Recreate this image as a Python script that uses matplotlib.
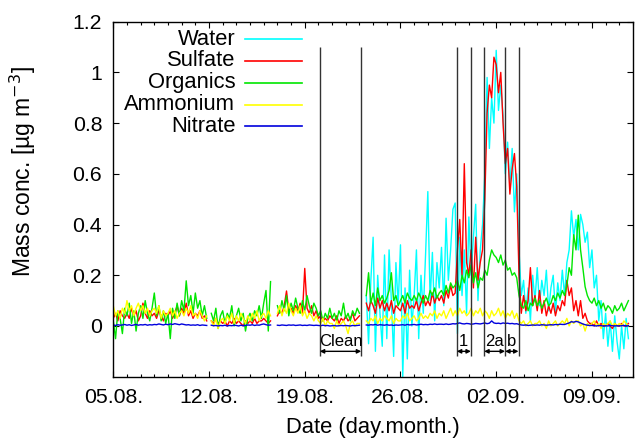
import numpy as np
import matplotlib
matplotlib.use("Agg")
import matplotlib.pyplot as plt

plt.rcParams['font.family'] = ['Liberation Sans', 'DejaVu Sans']

nan = np.nan

# 6 values per day, day 0 = 05.08. 00:00
per_day = 6

water = [nan] * 108 + [
    nan, nan, nan, 0.12, -0.07, 0.18,      # 23.08.
    0.35, -0.10, 0.20, 0.05, -0.08, 0.28,
    -0.05, 0.30, 0.10, -0.12, 0.25, 0.08,
    0.32, -0.20, 0.15, -0.13, 0.22, 0.00,
    0.12, 0.30, -0.05, 0.20, 0.05, 0.28,
    0.53, 0.10, 0.29, 0.02, 0.25, 0.15,
    0.31, 0.08, 0.425, 0.18, 0.30, 0.46,
    0.485, -0.03, 0.35, 0.12, 0.30, 0.05,   # 30.08.
    0.43, 0.20, 0.35, 0.48, 0.10, 0.30,
    0.40, 0.60, 0.98, 0.70, 0.90, 0.80,
    1.087, 0.85, 0.95, 0.83, 0.60, 0.725,    # 02.09.
    0.55, 0.70, 0.45, 0.60, 0.30, 0.12,
    0.18, 0.05, 0.15, 0.02, 0.20, 0.10,
    0.23, 0.08, 0.18, 0.12, 0.22, 0.06,
    0.15, 0.20, 0.05, 0.17, 0.10, 0.22,
    0.12, 0.25, 0.30, 0.454, 0.35, 0.42,
    0.30, 0.44, 0.40, 0.33, 0.37, 0.23,
    0.30, 0.15, 0.20, 0.02, 0.10, -0.05,    # 09.09.
    0.05, -0.08, 0.02, -0.10, 0.04, -0.06,
    -0.13, 0.00, -0.09, 0.03, -0.05, nan,
]

sulfate = [
    0.03, 0.05, 0.02, 0.06, 0.04, 0.03,     # 05.08.
    0.05, 0.03, 0.07, 0.04, 0.06, 0.02,
    0.04, 0.09, 0.05, 0.03, 0.06, 0.04,
    0.05, 0.03, 0.06, 0.04, 0.02, 0.05,
    0.04, 0.06, 0.03, 0.05, 0.08, 0.04,
    0.07, 0.05, 0.09, 0.04, 0.06, 0.03,
    0.05, 0.04, 0.06, 0.03, 0.04, 0.02,
    nan, 0.02, 0.01, 0.03, 0.01, 0.02,      # 12.08.
    0.01, 0.02, 0.00, 0.02, 0.01, 0.03,
    0.01, 0.02, 0.01, 0.00, 0.02, 0.01,
    0.02, 0.01, 0.03, 0.01, 0.02, 0.02,
    0.03, 0.02, 0.01, 0.02, nan, nan,
    0.04, 0.06, 0.05, 0.08, 0.138, 0.06,
    0.07, 0.05, 0.08, 0.06, 0.09, 0.05,
    0.227, 0.07, 0.05, 0.08, 0.04, 0.06,    # 19.08.
    0.03, 0.04, 0.02, 0.03, 0.02, 0.04,
    0.03, 0.02, 0.04, 0.01, 0.03, 0.02,
    0.04, 0.02, 0.03, 0.05, 0.02, 0.03,
    0.04, nan, nan, 0.09, 0.06, 0.10,
    0.08, 0.05, 0.11, 0.07, 0.10, 0.06,
    0.09, 0.06, 0.10, 0.05, 0.08, 0.07,
    0.06, 0.09, 0.05, 0.10, 0.07, 0.08,     # 26.08.
    0.07, 0.10, 0.06, 0.09, 0.12, 0.08,
    0.10, 0.08, 0.13, 0.09, 0.12, 0.10,
    0.12, 0.09, 0.14, 0.11, 0.16, 0.12,
    0.13, 0.30, 0.42, 0.20, 0.64, 0.25,
    0.20, 0.30, 0.15, 0.35, 0.18, 0.25,
    0.30, 0.50, 0.84, 0.95, 0.90, 1.06,
    1.03, 0.92, 1.00, 0.80, 0.64, 0.70,     # 02.09.
    0.52, 0.62, 0.68, 0.55, 0.20, 0.05,
    0.12, 0.06, 0.10, 0.23, 0.08, 0.12,
    0.06, 0.14, 0.05, 0.10, 0.04, 0.08,
    0.05, 0.09, 0.04, 0.08, 0.06, 0.10,
    0.08, 0.18, 0.12, 0.15, 0.06, 0.10,
    0.04, 0.10, 0.03, 0.05, 0.02, 0.01,
    0.01, 0.00, 0.02, 0.00, 0.01, 0.00,     # 09.09.
    0.00, 0.01, 0.00, -0.01, 0.01, 0.00,
    0.00, 0.01, 0.00, 0.00, 0.01, nan,
]

organics = [
    0.02, -0.05, 0.06, 0.03, -0.03, 0.07,   # 05.08.
    0.04, 0.09, 0.01, 0.06, -0.02, 0.05,
    0.08, 0.03, 0.10, 0.05, 0.02, 0.07,
    0.13, 0.04, 0.08, 0.02, 0.06, 0.01,
    0.05, -0.05, 0.07, 0.03, 0.09, 0.04,
    0.10, 0.06, 0.178, 0.08, 0.12, 0.05,
    0.13, 0.07, 0.10, 0.04, 0.08, 0.03,
    nan, 0.05, 0.02, 0.07, -0.01, 0.04,     # 12.08.
    0.06, 0.01, 0.05, 0.03, 0.08, 0.00,
    0.04, 0.07, 0.02, 0.05, -0.02, 0.03,
    0.05, 0.02, 0.06, 0.04, 0.08, 0.03,
    0.09, 0.14, -0.02, 0.175, nan, nan,
    0.08, 0.05, 0.10, 0.06, 0.12, 0.04,
    0.09, 0.06, 0.11, 0.07, 0.05, 0.10,
    0.06, 0.12, 0.08, 0.05, 0.09, 0.07,     # 19.08.
    0.04, 0.06, 0.02, 0.05, 0.03, 0.07,
    0.03, 0.05, 0.02, 0.06, 0.04, 0.09,
    0.03, 0.05, 0.02, 0.06, 0.04, 0.07,
    0.05, nan, nan, 0.12, 0.21, 0.09,
    0.13, 0.08, 0.15, 0.10, 0.12, 0.09,
    0.11, 0.14, 0.21, 0.10, 0.12, 0.08,
    0.10, 0.12, 0.09, 0.13, 0.11, 0.10,     # 26.08.
    0.12, 0.10, 0.13, 0.11, 0.09, 0.12,
    0.10, 0.14, 0.12, 0.15, 0.11, 0.13,
    0.14, 0.12, 0.16, 0.13, 0.17, 0.15,
    0.16, 0.18, 0.14, 0.20, 0.17, 0.22,
    0.19, 0.24, 0.17, 0.21, 0.15, 0.19,
    0.18, 0.22, 0.20, 0.26, 0.30, 0.28,
    0.27, 0.25, 0.28, 0.24, 0.26, 0.22,     # 02.09.
    0.23, 0.20, 0.21, 0.19, 0.12, 0.08,
    0.07, 0.10, 0.06, 0.09, 0.08, 0.11,
    0.08, 0.10, 0.07, 0.09, 0.11, 0.08,
    0.09, 0.12, 0.10, 0.13, 0.11, 0.14,
    0.12, 0.16, 0.23, 0.20, 0.36, 0.30,
    0.437, 0.30, 0.23, 0.155, 0.12, 0.10,
    0.09, 0.11, 0.08, 0.10, 0.07, 0.09,     # 09.09.
    0.06, 0.08, 0.07, 0.05, 0.08, 0.06,
    0.07, 0.09, 0.06, 0.08, 0.10, nan,
]

ammonium = [
    0.08, 0.04, 0.06, 0.03, 0.07, 0.05,     # 05.08.
    0.10, 0.06, 0.08, 0.04, 0.07, 0.09,
    0.06, 0.08, 0.05, 0.07, 0.04, 0.06,
    0.07, 0.05, 0.08, 0.03, 0.06, 0.04,
    0.05, 0.07, 0.04, 0.06, 0.03, 0.05,
    0.06, 0.04, 0.07, 0.05, 0.08, 0.04,
    0.05, 0.03, 0.06, 0.04, 0.02, 0.04,
    nan, 0.02, 0.00, 0.03, -0.01, 0.02,     # 12.08.
    0.03, 0.01, 0.04, 0.02, 0.05, 0.01,
    0.04, 0.02, 0.05, 0.03, 0.01, 0.04,
    0.02, 0.05, 0.03, 0.06, 0.02, 0.04,
    0.05, 0.03, 0.06, 0.04, nan, nan,
    0.05, 0.08, 0.04, 0.07, 0.05, 0.09,
    0.06, 0.04, 0.07, 0.05, 0.08, 0.04,
    0.06, 0.03, 0.05, 0.04, 0.02, 0.04,     # 19.08.
    0.02, 0.01, 0.03, 0.00, 0.02, 0.01,
    0.01, -0.01, 0.02, 0.00, 0.01, 0.02,
    0.00, -0.03, 0.01, 0.02, 0.00, 0.01,
    0.01, nan, nan, 0.02, 0.01, 0.03,
    0.02, 0.04, 0.01, 0.03, 0.02, 0.04,
    0.03, 0.02, 0.04, 0.01, 0.03, 0.02,
    0.02, 0.04, 0.03, 0.05, 0.02, 0.03,     # 26.08.
    0.04, 0.02, 0.03, 0.05, 0.03, 0.04,
    0.03, 0.05, 0.04, 0.06, 0.03, 0.05,
    0.04, 0.06, 0.03, 0.05, 0.07, 0.04,
    0.06, 0.04, 0.07, 0.05, 0.06, 0.04,
    0.05, 0.07, 0.04, 0.06, 0.05, 0.07,
    0.04, 0.06, 0.05, 0.03, 0.06, 0.04,
    0.05, 0.07, 0.04, 0.06, 0.03, 0.05,     # 02.09.
    0.04, 0.06, 0.03, 0.05, 0.02, 0.01,
    0.02, 0.00, 0.01, 0.02, 0.00, 0.01,
    0.01, 0.02, 0.00, 0.01, -0.01, 0.02,
    0.00, 0.01, 0.02, 0.00, 0.01, 0.02,
    0.01, 0.03, 0.00, 0.02, 0.01, 0.02,
    0.02, 0.00, 0.01, -0.02, 0.01, 0.00,
    0.01, 0.02, 0.00, 0.01, -0.01, 0.01,    # 09.09.
    0.00, 0.01, 0.02, 0.00, 0.01, 0.00,
    0.01, 0.00, 0.02, 0.01, 0.00, nan,
]

nitrate = [
    0.004, 0.002, 0.005, 0.003, 0.004, 0.006,   # 05.08.
    0.003, 0.005, 0.002, 0.004, 0.006, 0.003,
    0.005, 0.004, 0.006, 0.003, 0.005, 0.004,
    0.006, 0.005, 0.008, 0.006, 0.004, 0.007,
    0.005, 0.008, 0.006, 0.009, 0.007, 0.005,
    0.008, 0.006, 0.004, 0.005, 0.003, 0.004,
    0.003, 0.005, 0.002, 0.004, 0.003, 0.002,
    nan, 0.003, 0.001, 0.002, 0.000, 0.002,     # 12.08.
    0.001, 0.003, 0.000, 0.002, 0.001, 0.003,
    0.002, 0.000, 0.003, 0.001, 0.002, 0.004,
    0.003, 0.005, 0.002, 0.004, 0.003, 0.006,
    0.008, 0.005, 0.003, 0.004, nan, nan,
    0.003, 0.002, 0.004, 0.003, 0.002, 0.004,
    0.003, 0.004, 0.002, 0.003, 0.004, 0.002,
    0.003, 0.002, 0.004, 0.003, 0.002, 0.003,   # 19.08.
    0.002, 0.001, 0.003, 0.001, 0.002, 0.000,
    0.001, 0.002, 0.000, 0.001, 0.002, 0.001,
    0.002, 0.001, 0.000, 0.002, 0.001, 0.002,
    0.003, nan, nan, 0.004, 0.003, 0.005,
    0.004, 0.006, 0.003, 0.005, 0.004, 0.003,
    0.005, 0.003, 0.004, 0.002, 0.004, 0.003,
    0.004, 0.005, 0.003, 0.006, 0.004, 0.005,   # 26.08.
    0.006, 0.004, 0.005, 0.007, 0.005, 0.006,
    0.005, 0.007, 0.006, 0.008, 0.006, 0.007,
    0.007, 0.006, 0.008, 0.006, 0.007, 0.009,
    0.008, 0.010, 0.012, 0.009, 0.008, 0.010,
    0.009, 0.007, 0.008, 0.010, 0.009, 0.008,
    0.010, 0.012, 0.009, 0.011, 0.020, 0.012,
    0.010, 0.011, 0.009, 0.012, 0.010, 0.011,   # 02.09.
    0.009, 0.010, 0.008, 0.009, 0.006, 0.004,
    0.003, 0.004, 0.002, 0.003, 0.004, 0.003,
    0.004, 0.003, 0.005, 0.004, 0.003, 0.004,
    0.005, 0.004, 0.006, 0.005, 0.007, 0.006,
    0.006, 0.009, 0.012, 0.017, 0.015, 0.018,
    0.016, 0.012, 0.008, 0.005, 0.003, 0.002,
    0.002, 0.001, 0.000, 0.002, 0.001, 0.000,   # 09.09.
    0.001, 0.000, 0.002, 0.001, 0.000, 0.001,
    0.000, 0.001, 0.002, 0.000, 0.001, nan,
]

names = ["Water", "Sulfate", "Organics", "Ammonium", "Nitrate"]
colors = ["#00ffff", "#ff0000", "#00e600", "#ffff00", "#0000dd"]

# marked periods (days after 05.08.)
event_days = [15.1, 18.13, 25.12, 26.15, 27.12, 28.65, 29.63]
periods = [(15.1, 18.13, "Clean"), (25.12, 26.15, "1"),
           (27.12, 28.65, "2a"), (28.65, 29.63, "b")]

tick_days = [0, 7, 14, 21, 28, 35]
tick_labels = ["05.08.", "12.08.", "19.08.", "26.08.", "02.09.", "09.09."]

t = np.arange(len(organics)) / per_day

fs = 15.3

fig = plt.figure(figsize=(6.35, 4.45), dpi=100)
ax = fig.add_axes([0.1784, 0.1535, 0.8184, 0.7978])

series = [water, sulfate, organics, ammonium, nitrate]
for vals, c in zip(series, colors):
    ax.plot(t, vals, color=c, lw=1.0)

ax.vlines(event_days, -0.12, 1.1, colors="0.2", lw=1.0)
for x0, x1, lab in periods:
    ax.annotate("", xy=(x0, -0.10), xytext=(x1, -0.10),
                arrowprops=dict(arrowstyle="<|-|>", mutation_scale=6,
                                lw=1.0, color="k", shrinkA=0, shrinkB=0))
    ax.text((x0 + x1) / 2, -0.063, lab, ha="center", va="center", fontsize=12)

# legend, gnuplot style: text right aligned, sample line to the right
for i, (name, c) in enumerate(zip(names, colors)):
    yy = 0.951 - i * 0.0615
    ax.text(0.235, yy, name, transform=ax.transAxes, ha="right", va="center",
            fontsize=15.8)
    ax.plot([0.253, 0.364], [yy, yy], transform=ax.transAxes, color=c, lw=1.2)

ax.set_xlim(0, 38)
ax.set_ylim(-0.2, 1.2)
ax.set_xticks(tick_days)
ax.set_xticklabels(tick_labels)
ax.set_xticks(np.arange(0, 39), minor=True)
ax.set_yticks([0, 0.2, 0.4, 0.6, 0.8, 1.0, 1.2])
ax.set_yticklabels(["0", "0.2", "0.4", "0.6", "0.8", "1", "1.2"])
ax.tick_params(which="both", direction="in", top=True, right=True,
               labelsize=fs, width=0.8)
ax.tick_params(which="major", length=4, pad=8)
ax.tick_params(which="minor", length=2)
for s in ax.spines.values():
    s.set_linewidth(1.0)

ax.set_xlabel("Date (day.month.)", fontsize=15.8, labelpad=7)
ax.set_ylabel("Mass conc. [µg m$^{-3}$]", fontsize=16.5)
ax.yaxis.set_label_coords(-0.145, 0.579)

fig.savefig("out.png", dpi=100)
